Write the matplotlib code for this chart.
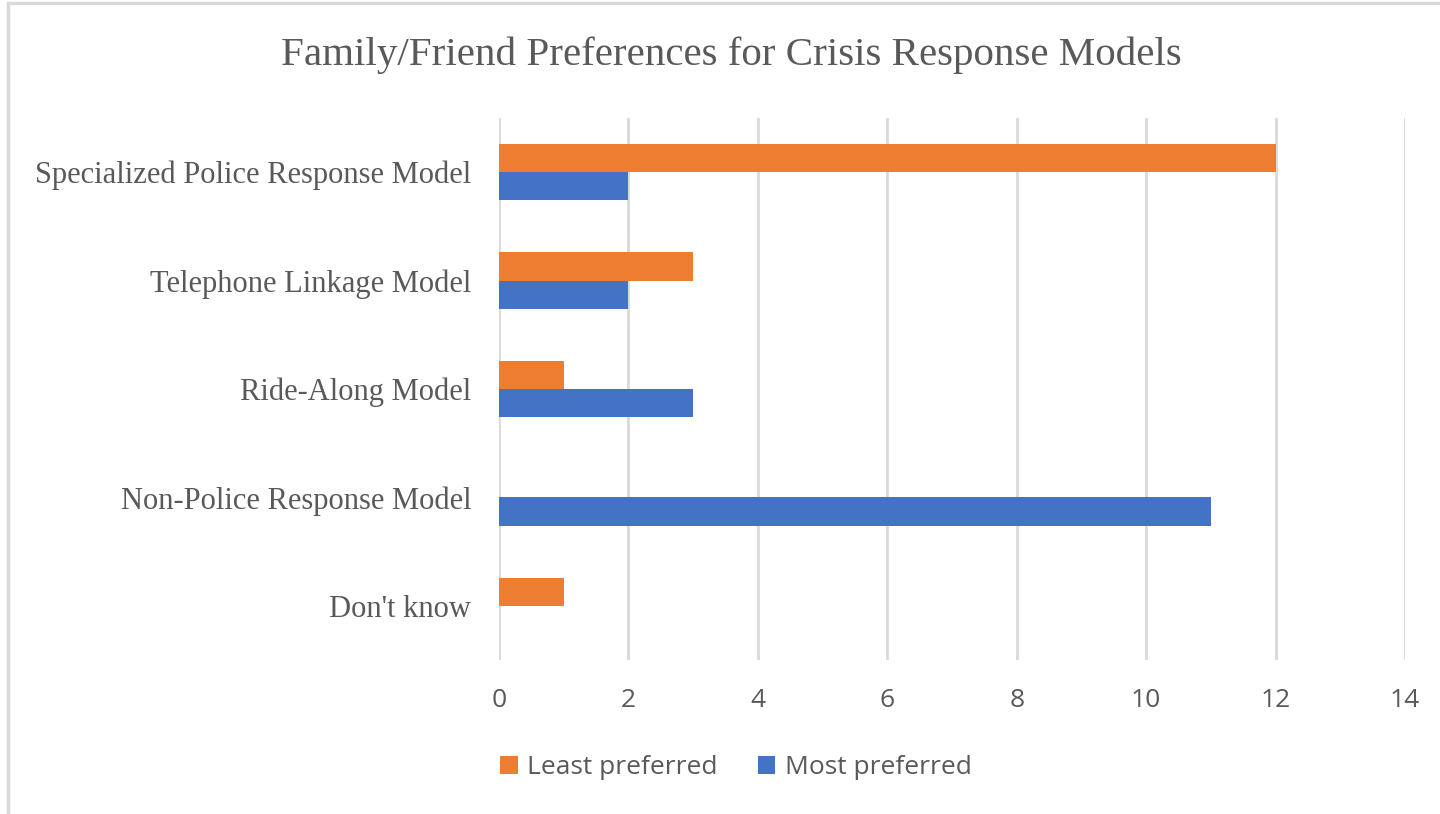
import matplotlib.pyplot as plt
import matplotlib.patches as patches
import numpy as np

# data
categories = ["Specialized Police Response Model", "Telephone Linkage Model",
              "Ride-Along Model", "Non-Police Response Model", "Don't know"]
least_preferred = [12, 3, 1, 0, 1]
most_preferred = [2, 2, 3, 11, 0]
x_ticks = [0, 2, 4, 6, 8, 10, 12, 14]

orange = "#ED7D31"
blue = "#4472C4"
text_gray = "#595959"

fig = plt.figure(figsize=(14.4, 8.14), dpi=100)
ax = fig.add_axes([499 / 1440, 1 - 660 / 814, (1405 - 499) / 1440, (660 - 118) / 814])

# chart border like an Excel chart area
border = patches.Rectangle((8 / 1440, -0.01), 1.1, 1 - 3 / 814 + 0.01, transform=fig.transFigure,
                           fill=False, edgecolor="#d9d9d9", linewidth=2.5, clip_on=False)
fig.add_artist(border)

y = np.arange(len(categories))
h = 0.26
ax.barh(y - h / 2, least_preferred, height=h, color=orange, label="Least preferred", zorder=3)
ax.barh(y + h / 2, most_preferred, height=h, color=blue, label="Most preferred", zorder=3)

ax.set_ylim(len(categories) - 0.5, -0.5)
ax.set_xlim(0, 14)
ax.set_xticks(x_ticks)
ax.set_yticks(y)
ax.set_yticklabels(categories, family="Liberation Serif", fontsize=22, color=text_gray)
ax.tick_params(axis="y", length=0, pad=20)
ax.tick_params(axis="x", length=0, pad=20, labelsize=19, labelcolor=text_gray)
for lbl in ax.get_xticklabels():
    lbl.set_family("Open Sans")

ax.grid(axis="x", color="#d9d9d9", linewidth=2, zorder=0)
for s in ax.spines.values():
    s.set_visible(False)

fig.text(731 / 1440, 1 - 55 / 814, "Family/Friend Preferences for Crisis Response Models",
         family="Liberation Serif", fontsize=29.5, color=text_gray, ha="center", va="center")

leg = fig.legend(loc="center", bbox_to_anchor=(736 / 1440, 1 - 768 / 814), ncol=2, frameon=False,
                 prop={"family": "Open Sans", "size": 19}, handlelength=0.65, handleheight=0.65,
                 handletextpad=0.35, columnspacing=1.55)
for t in leg.get_texts():
    t.set_color(text_gray)

fig.savefig("out.png", dpi=100)
